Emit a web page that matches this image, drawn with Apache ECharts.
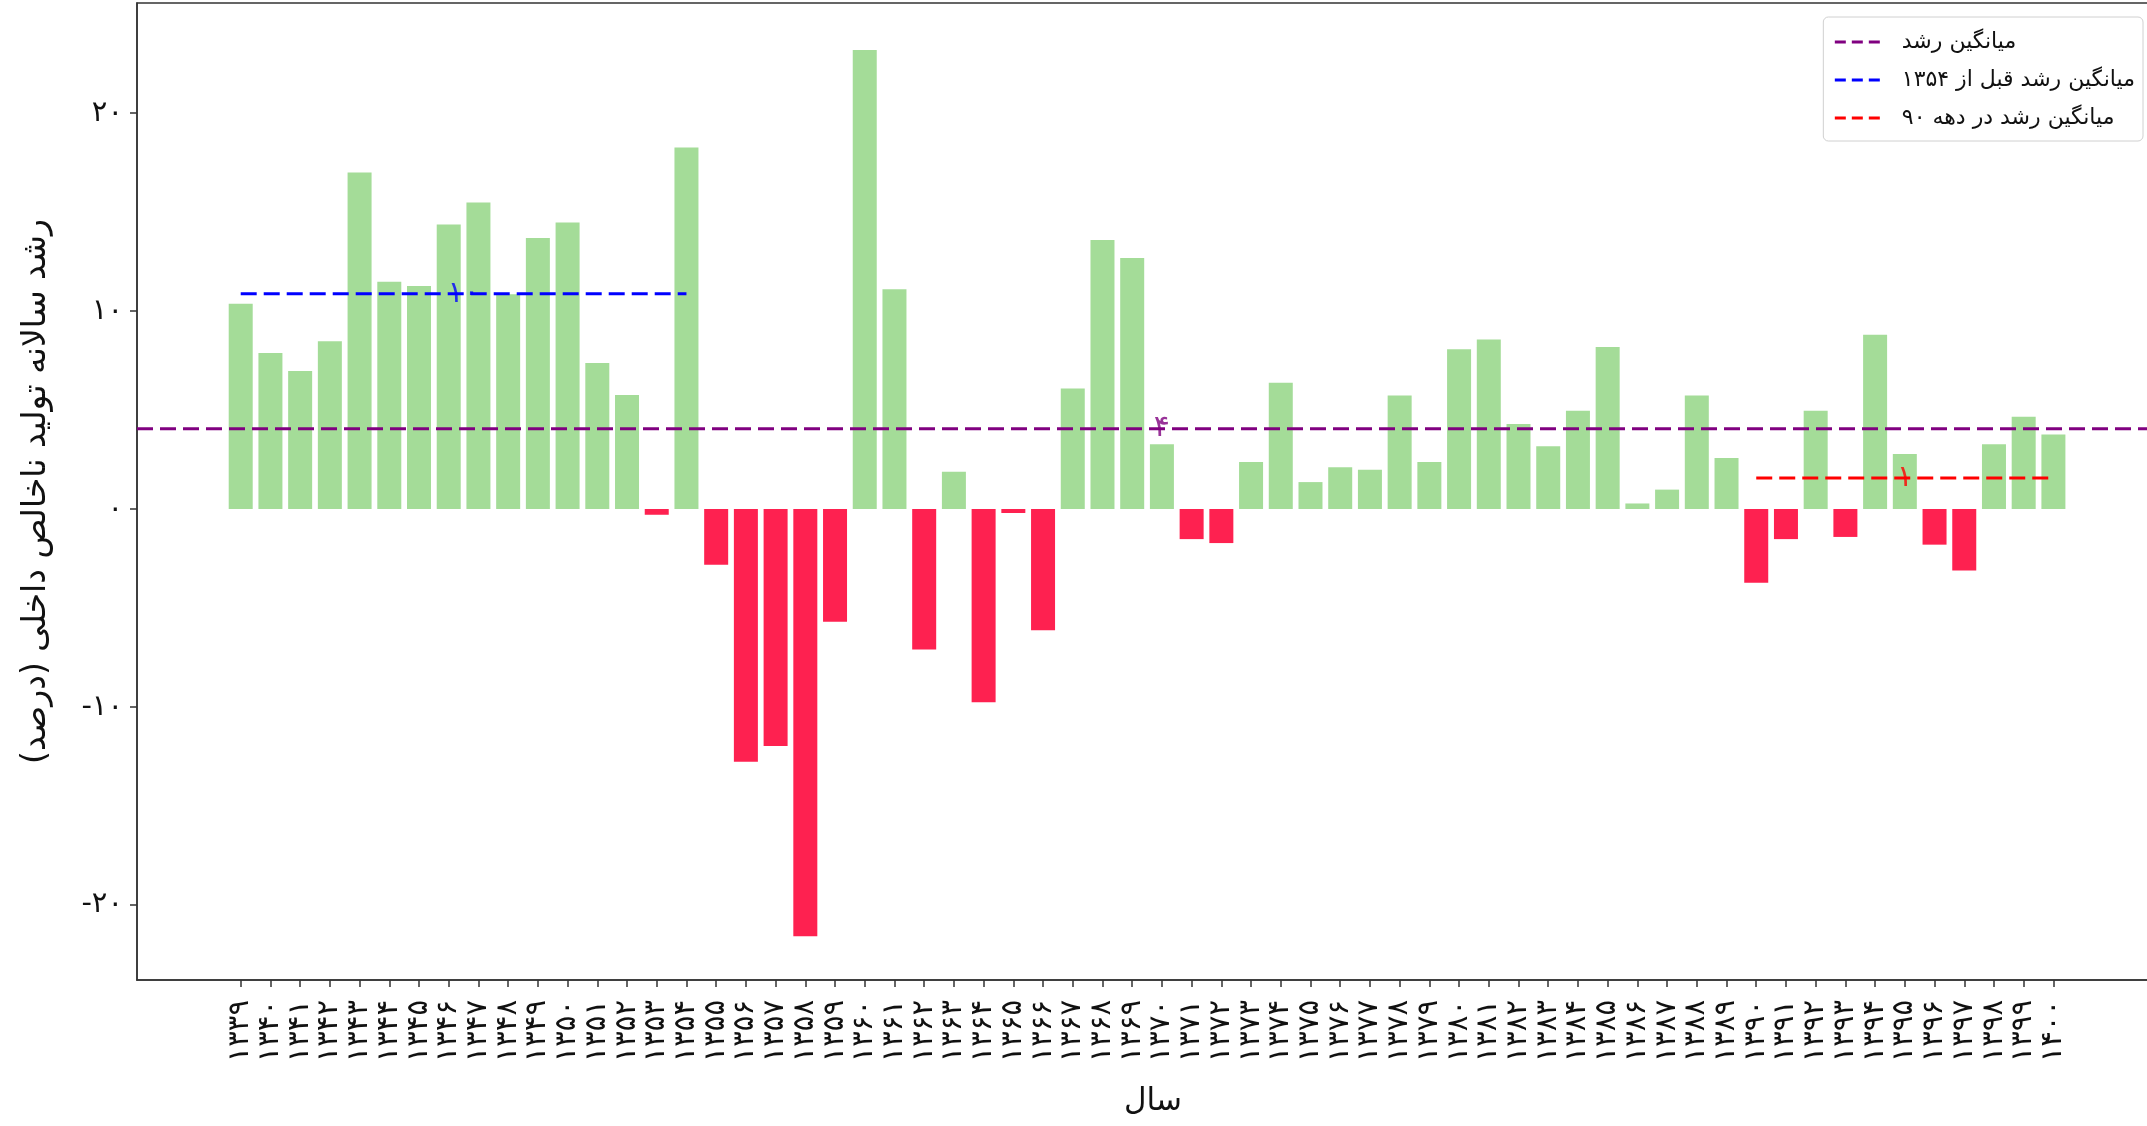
<!DOCTYPE html>
<html>
<head>
<meta charset="utf-8">
<script src="https://cdn.jsdelivr.net/npm/echarts@6/dist/echarts.min.js"></script>
<style>
  html, body { margin: 0; padding: 0; background: #fff; }
  #chart { width: 2147px; height: 1126px; }
</style>
</head>
<body>
<div id="chart"></div>
<script>
// سال‌ها
const years = [
  1339, 1340, 1341, 1342, 1343, 1344, 1345, 1346, 1347, 1348,
  1349, 1350, 1351, 1352, 1353, 1354, 1355, 1356, 1357, 1358,
  1359, 1360, 1361, 1362, 1363, 1364, 1365, 1366, 1367, 1368,
  1369, 1370, 1371, 1372, 1373, 1374, 1375, 1376, 1377, 1378,
  1379, 1380, 1381, 1382, 1383, 1384, 1385, 1386, 1387, 1388,
  1389, 1390, 1391, 1392, 1393, 1394, 1395, 1396, 1397, 1398,
  1399, 1400
]
// رشد سالانه (درصد)
const growth = [
  10.37, 7.88, 6.97, 8.47, 17.0, 11.48, 11.27, 14.37, 15.48, 10.85,
  13.69, 14.47, 7.37, 5.76, -0.29, 18.26, -2.81, -12.77, -11.97, -21.58,
  -5.70, 23.18, 11.10, -7.09, 1.88, -9.76, -0.20, -6.12, 6.09, 13.59,
  12.68, 3.27, -1.52, -1.72, 2.37, 6.38, 1.36, 2.11, 1.98, 5.74,
  2.37, 8.07, 8.56, 4.30, 3.17, 4.97, 8.18, 0.28, 0.98, 5.74,
  2.58, -3.72, -1.52, 4.97, -1.41, 8.80, 2.78, -1.80, -3.10, 3.27,
  4.66, 3.76
]
// خطوط میانگین
const meanNames = ['میانگین رشد', 'میانگین رشد قبل از ۱۳۵۴', 'میانگین رشد در دهه ۹۰']
const meanValues = [4.06, 10.87, 1.57]
const meanFrom = [null, 1339, 1390]   // null = کل محور
const meanTo = [null, 1354, 1400]
const meanText = ['۴', '۱۰', '۱']
const meanColors = ['#800080', '#0000ff', '#ff0000']
const yTicks = [-20, -10, 0, 10, 20]

const X_MIN = -3.49, X_MAX = 64.89
const Y_MIN = -23.79, Y_MAX = 25.56
const FONT = '"DejaVu Sans", "Noto Sans", sans-serif'

const toFa = (n) => String(n).replace(/\d/g, d => '۰۱۲۳۴۵۶۷۸۹'[d])

const chart = echarts.init(document.getElementById('chart'))

const lineSeries = meanNames.map((name, k) => {
  const full = meanFrom[k] === null
  const x0 = full ? X_MIN : years.indexOf(meanFrom[k])
  const x1 = full ? X_MAX : years.indexOf(meanTo[k])
  return {
    name: name,
    type: 'line',
    symbol: 'none',
    z: 5,
    lineStyle: { color: meanColors[k], width: 3, type: [16, 7] },
    itemStyle: { color: meanColors[k] },
    data: [[x0, meanValues[k]], [x1, meanValues[k]]]
  }
})

const labelSeries = meanNames.map((name, k) => {
  const full = meanFrom[k] === null
  const mid = full ? years.length / 2 : (years.indexOf(meanFrom[k]) + years.indexOf(meanTo[k])) / 2
  return {
    name: name + '_label',
    type: 'scatter',
    symbolSize: 1,
    z: 6,
    itemStyle: { color: 'rgba(0,0,0,0)' },
    label: {
      show: true,
      position: 'inside',
      formatter: meanText[k],
      color: meanColors[k],
      fontSize: 30,
      fontFamily: FONT
    },
    data: [[mid, meanValues[k]]]
  }
})

const tickIdx = years.map((y, i) => i)

chart.setOption({
  animation: false,
  backgroundColor: '#fff',
  grid: {
    left: 137,
    top: 3,
    bottom: 146,
    right: -22,
    show: true,
    borderColor: '#333',
    borderWidth: 1.5,
    outerBoundsMode: 'none'
  },
  legend: {
    data: meanNames,
    orient: 'vertical',
    right: 4,
    top: 17,
    align: 'left',
    itemWidth: 48,
    itemHeight: 24,
    itemGap: 12,
    padding: [12, 8, 10, 10],
    backgroundColor: 'rgba(255,255,255,0.85)',
    borderColor: '#d0d0d0',
    borderWidth: 1,
    borderRadius: 5,
    itemStyle: { color: 'rgba(0,0,0,0)', borderWidth: 0, opacity: 0 },
    lineStyle: { width: 3, type: [11, 6] },
    textStyle: { fontSize: 22, lineHeight: 26, color: '#111', fontFamily: FONT, padding: [0, 0, 0, 14] }
  },
  xAxis: {
    type: 'value',
    min: X_MIN,
    max: X_MAX,
    name: 'سال',
    nameLocation: 'middle',
    nameGap: 106,
    nameTextStyle: { fontSize: 31, color: '#111', fontFamily: FONT },
    axisLine: { show: true, onZero: false, lineStyle: { color: '#333', width: 1.5 } },
    axisTick: { show: true, length: 7, customValues: tickIdx, lineStyle: { color: '#333', width: 1.5 } },
    axisLabel: {
      customValues: tickIdx,
      showMinLabel: true,
      showMaxLabel: true,
      hideOverlap: false,
      rotate: 90,
      margin: 20,
      fontSize: 29,
      lineHeight: 20,
      color: '#111',
      fontFamily: FONT,
      formatter: (v) => toFa(years[Math.round(v)])
    },
    splitLine: { show: false }
  },
  yAxis: {
    type: 'value',
    min: Y_MIN,
    max: Y_MAX,
    name: 'رشد سالانه تولید ناخالص داخلی (درصد)',
    nameLocation: 'middle',
    nameRotate: 90,
    nameGap: 84,
    nameTextStyle: { fontSize: 33, color: '#111', fontFamily: FONT },
    axisLine: { show: true, onZero: false, lineStyle: { color: '#333', width: 1.5 } },
    axisTick: { show: true, length: 7, customValues: yTicks, lineStyle: { color: '#333', width: 1.5 } },
    axisLabel: {
      customValues: yTicks,
      showMinLabel: true,
      showMaxLabel: true,
      margin: 14,
      fontSize: 29,
      color: '#111',
      fontFamily: FONT,
      formatter: (v) => toFa(v)
    },
    splitLine: { show: false }
  },
  series: [
    {
      name: 'رشد',
      type: 'bar',
      barWidth: 24,
      z: 2,
      itemStyle: {
        color: (p) => p.value[1] >= 0 ? '#a4dc98' : '#fe2150'
      },
      data: growth.map((v, i) => [i, v])
    },
    ...lineSeries,
    ...labelSeries
  ]
})
</script>
</body>
</html>
